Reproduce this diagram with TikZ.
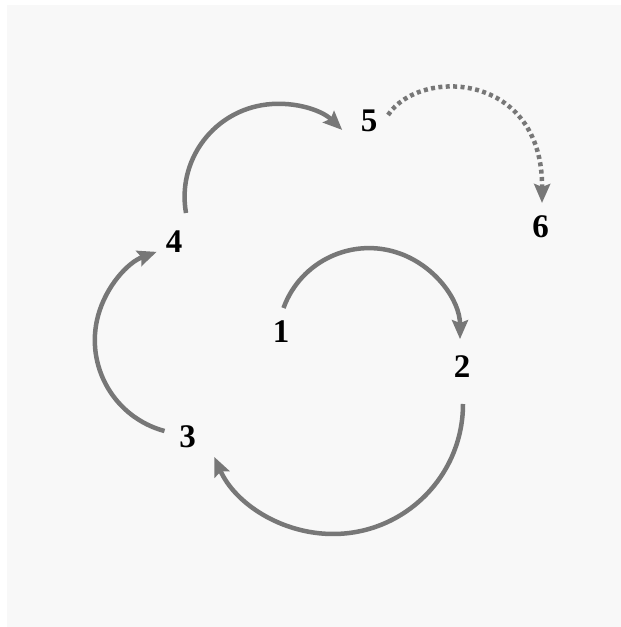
\documentclass[tikz,border=0pt]{standalone}
\usepackage{fontspec}
\setmainfont{Liberation Serif}
\usetikzlibrary{arrows.meta,calc}
\definecolor{bgc}{HTML}{F8F8F8}
\definecolor{arc}{HTML}{777777}
\begin{document}
\begin{tikzpicture}[x=0.5pt,y=0.5pt,
  lbl/.style={inner sep=0pt,font=\fontsize{16.5}{16.5}\selectfont\bfseries,text=black},
  link/.style={draw=arc,line width=2.25pt,-{Stealth[length=9.5pt,width=8pt,inset=1.5pt]}},
  dotlink/.style={link,dash pattern=on 2pt off 1.7pt}]
\useasboundingbox (0,0) rectangle (621,627);
\fill[white] (0,0) rectangle (621,627);
\fill[bgc] (7,0) rectangle (621,622);
\node[lbl] (n1) at (281,295) {1};
\node[lbl] (n2) at (462,260) {2};
\node[lbl] (n3) at (187.5,190) {3};
\node[lbl] (n4) at (174,385) {4};
\node[lbl] (n5) at (369,506) {5};
\node[lbl] (n6) at (540.5,400.5) {6};
\draw[link] ($(n1)+(2.5,24)$) arc[start angle=160,end angle=0,radius=91];
\draw[link] ($(n2)+(1,-37)$) arc[start angle=0,end angle=-156,radius=130];
\draw[link] ($(n3)+(-23,6)$) arc[start angle=255,end angle=110,radius=94];
\draw[link] ($(n4)+(12,29)$) arc[start angle=190,end angle=46,radius=93];
\draw[dotlink] ($(n5)+(19,6)$) .. controls +(32,48) and +(1,131) .. ($(n6)+(1.5,23.5)$);
\end{tikzpicture}
\end{document}
